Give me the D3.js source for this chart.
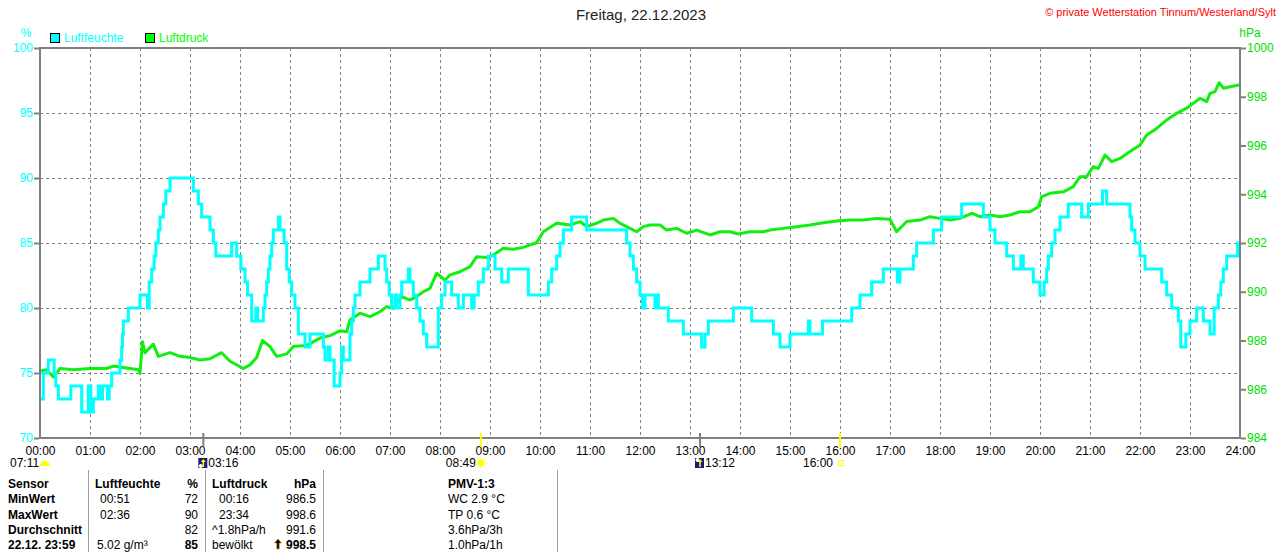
<!DOCTYPE html>
<html>
<head>
<meta charset="utf-8">
<script src="https://cdn.jsdelivr.net/npm/d3@7"></script>
<style>
  body { margin: 0; background: #fff; }
  svg { display: block; font-family: "Liberation Sans", Arial, sans-serif; }
</style>
</head>
<body>
<div id="chart"></div>
<script>
// Humidity (%), step changes: minute of day -> value
const humMinutes = [0, 4, 10, 17, 19, 22, 37, 50, 58, 61, 64, 70, 72, 75, 81, 83, 86, 96, 98, 99,
  100, 106, 120, 129, 131, 134, 137, 139, 142, 144, 148, 151, 156, 184, 190, 194, 204, 208, 211, 230,
  236, 241, 246, 249, 254, 259, 261, 268, 270, 272, 274, 276, 278, 280, 286, 288, 293, 296, 299, 302,
  306, 310, 318, 324, 340, 342, 346, 348, 353, 360, 362, 364, 372, 374, 376, 378, 384, 396, 406, 414,
  416, 419, 422, 426, 428, 432, 434, 442, 444, 448, 452, 456, 460, 464, 478, 482, 486, 494, 502, 508,
  518, 521, 526, 532, 538, 546, 554, 562, 586, 610, 614, 620, 624, 628, 638, 656, 704, 708, 712, 716,
  720, 723, 726, 738, 740, 742, 754, 772, 794, 798, 802, 832, 854, 880, 888, 900, 922, 924, 939, 974,
  984, 998, 1012, 1029, 1032, 1048, 1052, 1072, 1082, 1106, 1132, 1140, 1146, 1160, 1168, 1177, 1180, 1192, 1200, 1205,
  1208, 1210, 1214, 1218, 1224, 1234, 1250, 1258, 1275, 1280, 1308, 1310, 1314, 1320, 1326, 1346, 1352, 1358, 1366, 1369,
  1375, 1380, 1388, 1396, 1404, 1409, 1414, 1417, 1420, 1424, 1437, 1439];
const humValues = [73, 75, 76, 75, 74, 73, 74, 72, 74, 72, 73, 74, 73, 74, 73, 74, 75, 76, 77, 78,
  79, 80, 81, 80, 82, 83, 84, 85, 86, 87, 88, 89, 90, 89, 88, 87, 86, 85, 84, 85,
  84, 83, 82, 81, 79, 80, 79, 80, 81, 82, 83, 84, 85, 86, 87, 86, 85, 83, 82, 81,
  80, 78, 77, 78, 77, 76, 77, 76, 74, 75, 77, 76, 78, 79, 80, 81, 82, 83, 84, 83,
  82, 81, 80, 81, 80, 81, 82, 83, 82, 81, 80, 79, 78, 77, 80, 81, 82, 81, 80, 81,
  80, 81, 82, 83, 84, 83, 82, 83, 81, 82, 83, 84, 85, 86, 87, 86, 85, 84, 83, 82,
  81, 80, 81, 80, 81, 80, 79, 78, 77, 78, 79, 80, 79, 78, 77, 78, 79, 78, 79, 80,
  81, 82, 83, 82, 83, 84, 85, 86, 87, 88, 87, 86, 85, 84, 83, 84, 83, 82, 81, 82,
  83, 84, 85, 86, 87, 88, 87, 88, 89, 88, 87, 86, 85, 84, 83, 82, 81, 80, 79, 77,
  78, 79, 80, 79, 78, 80, 81, 82, 83, 84, 85, 85];

// Air pressure (hPa): minute of day -> value
const presMinutes = [0, 8, 16, 24, 40, 60, 80, 88, 108, 118, 120, 123, 126, 136, 142, 156, 168, 180, 192, 204,
  218, 228, 244, 252, 260, 267, 276, 284, 296, 304, 320, 336, 348, 360, 368, 372, 384, 396, 408, 416,
  424, 434, 444, 452, 460, 468, 476, 486, 492, 504, 516, 524, 536, 544, 556, 568, 580, 588, 596, 604,
  620, 636, 648, 656, 668, 676, 688, 696, 708, 716, 724, 732, 744, 752, 764, 776, 788, 804, 816, 828,
  838, 852, 868, 876, 892, 908, 924, 940, 956, 972, 988, 1004, 1020, 1028, 1040, 1056, 1068, 1080, 1092, 1104,
  1118, 1128, 1140, 1152, 1164, 1176, 1188, 1198, 1202, 1212, 1228, 1240, 1248, 1256, 1264, 1270, 1278, 1286, 1296, 1308,
  1320, 1328, 1340, 1352, 1364, 1376, 1384, 1392, 1400, 1404, 1410, 1415, 1420, 1428, 1439];
const presValues = [986.75, 986.8, 986.5, 986.85, 986.8, 986.85, 986.85, 986.95, 986.85, 986.8, 986.65, 987.95, 987.5, 987.85, 987.35, 987.5, 987.35, 987.3, 987.2, 987.25,
  987.5, 987.15, 986.85, 987.0, 987.3, 988.0, 987.75, 987.35, 987.45, 987.75, 987.8, 988.1, 988.2, 988.4, 988.36, 988.84, 989.12, 988.98, 989.18, 989.39,
  989.32, 989.8, 989.66, 989.8, 990.0, 990.14, 990.76, 990.48, 990.69, 990.82, 991.03, 991.44, 991.41, 991.51, 991.78, 991.74, 991.82, 991.92, 992.01, 992.46,
  992.81, 992.74, 992.88, 992.67, 992.81, 992.94, 993.01, 992.81, 992.6, 992.46, 992.67, 992.74, 992.74, 992.53, 992.6, 992.4, 992.53, 992.33, 992.46, 992.46,
  992.37, 992.46, 992.46, 992.53, 992.6, 992.67, 992.74, 992.83, 992.9, 992.94, 992.94, 993.01, 992.97, 992.46, 992.88, 992.94, 993.08, 993.01, 992.94, 993.01,
  993.22, 993.08, 993.15, 993.08, 993.15, 993.28, 993.28, 993.49, 993.9, 994.04, 994.1, 994.31, 994.72, 994.72, 995.13, 995.06, 995.61, 995.34, 995.47, 995.75,
  996.02, 996.43, 996.7, 997.05, 997.32, 997.53, 997.73, 997.94, 997.8, 998.14, 998.21, 998.58, 998.35, 998.41, 998.48];

const humTicks = [70, 75, 80, 85, 90, 95, 100];
const presTicks = [984, 986, 988, 990, 992, 994, 996, 998, 1000];
const hourTicks = d3.range(0, 25);

// sun / moon events below the time axis
const astroTimes = ["07:11", "03:16", "08:49", "13:12", "16:00"];
const astroKinds = ["dawn", "moonrise", "sunrise", "moonset", "sunset"];

// summary table
const tableCol1 = ["Sensor", "MinWert", "MaxWert", "Durchschnitt", "22.12. 23:59"];
const humTimeCol = ["Luftfeuchte", "00:51", "02:36", "", "5.02 g/m³"];
const humValCol = ["%", "72", "90", "82", "85"];
const presTimeCol = ["Luftdruck", "00:16", "23:34", "^1.8hPa/h", "bewölkt"];
const presValCol = ["hPa", "986.5", "998.6", "991.6", "998.5"];
const pmvCol = ["PMV-1:3", "WC 2.9 °C", "TP 0.6 °C", "3.6hPa/3h", "1.0hPa/1h"];

const W = 1280, H = 552;
const margin = {top: 48, right: 40, bottom: 114, left: 40};
const plotW = W - margin.left - margin.right,
      plotH = H - margin.top - margin.bottom;

const cyan = "#00ffff", green = "#10f010", gridCol = "#808080";

const svg = d3.select("#chart").append("svg")
  .attr("width", W).attr("height", H);

const x = d3.scaleLinear().domain([0, 1440]).range([margin.left, margin.left + plotW]);
const yHum = d3.scaleLinear().domain([70, 100]).range([margin.top + plotH, margin.top]);
const yPres = d3.scaleLinear().domain([984, 1000]).range([margin.top + plotH, margin.top]);

const toMin = s => { const p = s.split(":"); return +p[0] * 60 + +p[1]; };

// Title and copyright
svg.append("text").attr("x", 641).attr("y", 20).attr("text-anchor", "middle")
  .style("font-size", "15px").style("fill", "#222").text("Freitag, 22.12.2023");
svg.append("text").attr("x", 1276).attr("y", 16).attr("text-anchor", "end")
  .style("font-size", "11px").style("fill", "#ff0000")
  .text("© private Wetterstation Tinnum/Westerland/Sylt");

// units
svg.append("text").attr("x", 26).attr("y", 37).attr("text-anchor", "middle")
  .style("font-size", "12px").style("fill", cyan).text("%");
svg.append("text").attr("x", 1250).attr("y", 37).attr("text-anchor", "middle")
  .style("font-size", "12px").style("fill", "#00e000").text("hPa");

// Legend
const legend = [["Luftfeuchte", cyan, 50], ["Luftdruck", "#00ff00", 145]];
legend.forEach(function(l) {
  svg.append("rect").attr("x", l[2] + 0.5).attr("y", 33.5).attr("width", 9).attr("height", 9)
    .attr("fill", l[1]).attr("stroke", "#000");
  svg.append("text").attr("x", l[2] + 14).attr("y", 42)
    .style("font-size", "12px").style("fill", l[1]).text(l[0]);
});

// Grid
const grid = svg.append("g");
grid.selectAll(".vg").data(hourTicks.slice(1, -1)).enter().append("line")
  .attr("x1", d => x(d * 60) + 0.5).attr("x2", d => x(d * 60) + 0.5)
  .attr("y1", margin.top).attr("y2", margin.top + plotH)
  .attr("stroke", gridCol).attr("stroke-dasharray", "3,3");
grid.selectAll(".hg").data(humTicks.slice(1, -1)).enter().append("line")
  .attr("x1", margin.left).attr("x2", margin.left + plotW)
  .attr("y1", d => yHum(d) + 0.5).attr("y2", d => yHum(d) + 0.5)
  .attr("stroke", gridCol).attr("stroke-dasharray", "3,3");

// Lines
svg.append("path")
  .datum(presMinutes.map((m, i) => [m, presValues[i]]))
  .attr("fill", "none").attr("stroke", green).attr("stroke-width", 3)
  .attr("stroke-linejoin", "round")
  .attr("d", d3.line().x(d => x(d[0])).y(d => yPres(d[1])));

svg.append("path")
  .datum(humMinutes.map((m, i) => [m, humValues[i]]))
  .attr("fill", "none").attr("stroke", cyan).attr("stroke-width", 3)
  .attr("d", d3.line().curve(d3.curveStepAfter).x(d => x(d[0])).y(d => yHum(d[1])));

// Frame
svg.append("rect").attr("x", margin.left).attr("y", margin.top)
  .attr("width", plotW).attr("height", plotH)
  .attr("fill", "none").attr("stroke", gridCol).attr("stroke-width", 2);

// Axes
const axL = svg.append("g").attr("transform", `translate(${margin.left - 1},0)`)
  .call(d3.axisLeft(yHum).tickValues(humTicks).tickSize(5).tickPadding(1));
axL.selectAll("text").style("fill", cyan).style("font-size", "12px")
  .style("font-family", "'Liberation Sans', Arial, sans-serif");

const axR = svg.append("g").attr("transform", `translate(${margin.left + plotW + 1},0)`)
  .call(d3.axisRight(yPres).tickValues(presTicks).tickSize(5).tickPadding(1).tickFormat(d3.format("d")));
axR.selectAll("text").style("fill", "#00e000").style("font-size", "12px")
  .style("font-family", "'Liberation Sans', Arial, sans-serif");

const axB = svg.append("g").attr("transform", `translate(0,${margin.top + plotH + 2})`)
  .call(d3.axisBottom(x).tickValues(hourTicks.map(h => h * 60)).tickSize(0).tickPadding(6)
    .tickFormat(d => d3.format("02d")(d / 60) + ":00"));
axB.selectAll("text").style("fill", "#000").style("font-size", "12px")
  .style("font-family", "'Liberation Sans', Arial, sans-serif");

[axL, axR, axB].forEach(a => {
  a.select(".domain").remove();
  a.selectAll("line").attr("stroke", gridCol).attr("stroke-width", 2);
});

// Astro events
const astro = svg.append("g");
astroTimes.forEach(function(t, i) {
  const k = astroKinds[i];
  const xp = x(toMin(t));
  if (k !== "dawn") {
    astro.append("line").attr("x1", xp).attr("x2", xp).attr("y1", 433).attr("y2", 447)
      .attr("stroke", (k === "sunrise" || k === "sunset") ? "#ffff00" : gridCol).attr("stroke-width", 2);
  }
  const lbl = astro.append("text").attr("y", 467).style("font-size", "12px").text(t);
  if (k === "dawn") {
    lbl.attr("x", 10);
    astro.append("path").attr("d", "M40,466 A5,5 0 0 1 50,466 Z").attr("fill", "#ffff00");
  } else if (k === "sunrise") {
    lbl.attr("x", xp - 5).attr("text-anchor", "end");
    astro.append("circle").attr("cx", xp).attr("cy", 463).attr("r", 3.5).attr("fill", "#ffff00");
    d3.range(8).forEach(j => {
      const a = j * Math.PI / 4;
      astro.append("line")
        .attr("x1", xp + Math.cos(a) * 4.5).attr("y1", 463 + Math.sin(a) * 4.5)
        .attr("x2", xp + Math.cos(a) * 6).attr("y2", 463 + Math.sin(a) * 6)
        .attr("stroke", "#ffff00");
    });
  } else if (k === "sunset") {
    lbl.attr("x", xp - 7).attr("text-anchor", "end");
    astro.append("rect").attr("x", xp - 1.5).attr("y", 460.5).attr("width", 5).attr("height", 5)
      .attr("fill", "none").attr("stroke", "#ffff00");
  } else {
    lbl.attr("x", xp + 5);
    astro.append("rect").attr("x", xp - 5).attr("y", 458).attr("width", 9).attr("height", 10).attr("fill", "#1a1a80");
    astro.append("circle").attr("cx", xp - 2.5).attr("cy", k === "moonrise" ? 466 : 460).attr("r", 2).attr("fill", "#fff");
    astro.append("path").attr("d", `M${xp},459 l-2.5,3 h1.7 v5 h1.6 v-5 h1.7 Z`).attr("fill", "#ffff00");
  }
});

// Summary table
const table = svg.append("g").style("font-size", "12px");
[88, 205, 323, 557].forEach(xs => {
  table.append("line").attr("x1", xs + 0.5).attr("x2", xs + 0.5).attr("y1", 470).attr("y2", 552)
    .attr("stroke", "#a0a0a0");
});
const rowY = i => 488 + i * 15.25;
const cell = (txt, xp, i, anchor, bold) => table.append("text")
  .attr("x", xp).attr("y", rowY(i)).attr("text-anchor", anchor)
  .style("font-weight", bold ? "bold" : "normal").text(txt);

tableCol1.forEach((t, i) => cell(t, 8, i, "start", true));
humTimeCol.forEach((t, i) => cell(t, i === 0 ? 95 : (i === 4 ? 97 : 100), i, "start", i === 0));
humValCol.forEach((t, i) => cell(t, 198, i, "end", i === 0 || i === 4));
presTimeCol.forEach((t, i) => cell(t, (i === 1 || i === 2) ? 219 : 212, i, "start", i === 0));
presValCol.forEach((t, i) => cell(t, 316, i, "end", i === 0 || i === 4));
pmvCol.forEach((t, i) => cell(t, 448, i, "start", i === 0));

// trend arrow before current pressure
table.append("path").attr("d", "M278,539 l-3.5,4 h2.3 v6 h2.4 v-6 h2.3 Z")
  .attr("fill", "#000").attr("stroke", "#e08000").attr("stroke-width", 0.6);
</script>
</body>
</html>
